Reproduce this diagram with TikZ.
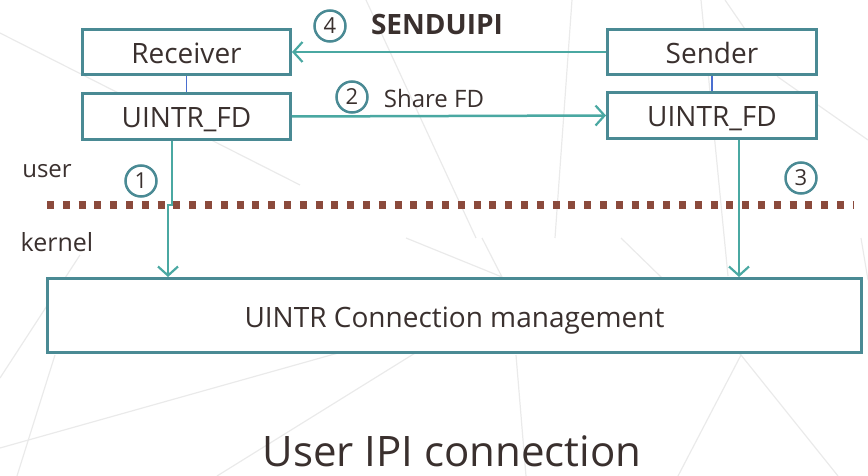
\documentclass[tikz,border=0pt]{standalone}
\usepackage{fontspec}
\setmainfont{Open Sans}
\usetikzlibrary{arrows.meta}
\definecolor{boxc}{HTML}{4A8A94}
\definecolor{arrc}{HTML}{4AA8A2}
\definecolor{linkc}{HTML}{4A6FD0}
\definecolor{dotc}{HTML}{8B4A3C}
\definecolor{txtc}{HTML}{3A302E}
\definecolor{bgl}{HTML}{EAEAEA}
\tikzset{
  box/.style={draw=boxc, line width=3pt, fill=white, text=txtc, font=\fontsize{28}{32}\selectfont, inner sep=0pt, text height=25pt, text depth=2pt},
  arr/.style={draw=arrc, line width=2.5pt, -{Straight Barb[length=9pt,width=20pt,line width=2.2pt]}},
  link/.style={draw=linkc, line width=1.5pt},
  num/.style={circle, draw=boxc, line width=2.5pt, minimum size=31pt, inner sep=0pt, text=txtc, font=\fontsize{22}{24}\selectfont},
  lbl/.style={text=txtc, inner sep=0pt},
  bg/.style={draw=bgl, line width=1.2pt},
}
\begin{document}
\begin{tikzpicture}[x=1pt,y=-1pt]
\useasboundingbox (0,0) rectangle (868,476);
% background decoration
\draw[bg] (0,33) -- (300,185);
\draw[bg] (0,448) -- (420,330);
\draw[bg] (217,476) -- (420,350);
\draw[bg] (621,238) -- (741,355) -- (678,476);
\draw[bg] (741,355) -- (838,476);
\draw[bg] (516,355) -- (526,476);
\draw[bg] (406,238) -- (502,277) -- (482,238);
\draw[bg] (366,0) -- (476,238);
\draw[bg] (572,0) -- (555,238);
\draw[bg] (701,0) -- (728,276);
\draw[bg] (725,0) -- (778,77) -- (868,140);
\draw[bg] (55,355) -- (17,476);
\draw[bg] (0,378) -- (80,255);
\draw[bg] (861,238) -- (868,280);
% boxes
\node[box, minimum width=208pt, minimum height=45pt] (rcv) at (186.5,52) {Receiver};
\node[box, minimum width=208pt, minimum height=46pt] (lfd) at (186.5,116.5) {UINTR\_FD};
\node[box, minimum width=209pt, minimum height=45pt] (snd) at (712,52) {Sender};
\node[box, minimum width=209pt, minimum height=46pt] (rfd) at (712,115.5) {UINTR\_FD};
\node[box, minimum width=814pt, minimum height=74pt] (cm) at (454.5,315.5) {UINTR Connection management};
% links
\draw[link] (rcv.south) -- (lfd.north);
\draw[link] (snd.south) -- (rfd.north);
% arrows
\draw[arr] (snd.west) -- (rcv.east);
\draw[arr] (lfd.east) -- (rfd.west);
% user/kernel line
\coordinate (dl) at (47,205);
\coordinate (dr) at (853,205);
\draw[dotc, line width=7pt, dash pattern=on 7pt off 8.8pt] (dl) -- (dr);
\coordinate (j1) at (172,205);
\coordinate (j2) at (168,205);
\coordinate (j3) at (739,205);
\draw[arr] (lfd.south -| j1) -- (j1) -- (j2) -- (cm.north -| j2);
\draw[arr] (rfd.south -| j3) -- (cm.north -| j3);
% numbers
\node[num] (n4) at (330,26) {4};
\node[num] (n2) at (352,97) {2};
\node[num] (n1) at (141,181) {1};
\node[num] (n3) at (801,178) {3};
% labels
\node[lbl, font=\fontsize{28}{32}\selectfont\bfseries] (t4) at (437,25) {SENDUIPI};
\node[lbl, font=\fontsize{24}{28}\selectfont] (t2) at (434,99) {Share FD};
\node[lbl, font=\fontsize{24}{28}\selectfont] (tu) at (47,171) {user};
\node[lbl, font=\fontsize{25}{28}\selectfont] (tk) at (57,242) {kernel};
\node[lbl, font=\fontsize{42}{48}\selectfont, anchor=base] (title) at (452,466) {User IPI connection};
\end{tikzpicture}
\end{document}
